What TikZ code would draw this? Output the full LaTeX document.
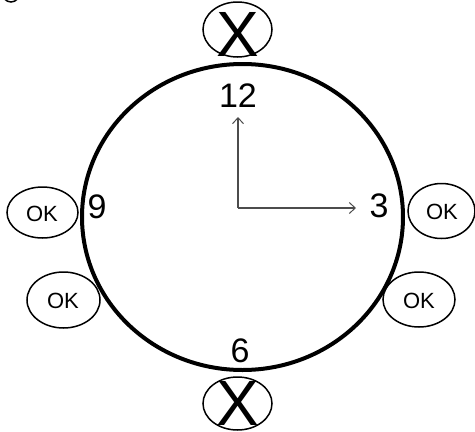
\documentclass[tikz,border=0pt]{standalone}
\usepackage{fontspec}
\setmainfont{Liberation Sans}
\usetikzlibrary{shapes.geometric,arrows.meta}
\begin{document}
\begin{tikzpicture}[x=1pt,y=-1pt,
  oval/.style={draw=black,line width=1.5pt,ellipse,inner sep=0pt},
  num/.style={font=\fontsize{34}{34}\selectfont,inner sep=0pt,anchor=base},
  oktxt/.style={font=\fontsize{22}{22}\selectfont,inner sep=0pt,anchor=base},
  xtxt/.style={font=\fontsize{64}{64}\selectfont,inner sep=0pt,anchor=base},
  hand/.style={draw=black!70,line width=1.1pt,-{Straight Barb[length=6pt,width=11pt,line width=1pt]}}]
\useasboundingbox (0,0) rectangle (475,432);
\clip (0,0) rectangle (475,432);
% partial shape in corner
\draw[line width=1.5pt] (11,-8) ellipse [x radius=9, y radius=10];
% clock face
\node[draw=black,line width=4pt,ellipse,minimum width=321pt,minimum height=306pt,inner sep=0pt] (face) at (242.5,217) {};
% X ovals
\node[oval,minimum width=69pt,minimum height=55pt] (xtop) at (237.5,29.5) {};
\node[xtxt] (xtopt) at (237.5,56) {X};
\node[oval,minimum width=69pt,minimum height=53pt] (xbot) at (237.5,403.5) {};
\node[xtxt] (xbott) at (237.5,425) {X};
% OK ovals
\node[oval,minimum width=71pt,minimum height=51pt] (okl1) at (42.5,212.5) {};
\node[oktxt] (okl1t) at (42,221) {OK};
\node[oval,minimum width=73pt,minimum height=56pt] (okl2) at (63.5,300) {};
\node[oktxt] (okl2t) at (63,308) {OK};
\node[oval,minimum width=67pt,minimum height=55pt] (okr1) at (441.5,211) {};
\node[oktxt] (okr1t) at (442,219) {OK};
\node[oval,minimum width=72pt,minimum height=55pt] (okr2) at (419,299.5) {};
\node[oktxt] (okr2t) at (419,308) {OK};
% numbers
\node[num] (n12) at (238,107) {12};
\node[num] (n9) at (97,218) {9};
\node[num] (n3) at (379,217) {3};
\node[num] (n6) at (240,362) {6};
% hands
\coordinate (c) at (238,208);
\coordinate (h12) at (238,117);
\coordinate (h3) at (356,208);
\draw[hand] (c) -- (h12);
\draw[hand] (c) -- (h3);
\end{tikzpicture}
\end{document}
